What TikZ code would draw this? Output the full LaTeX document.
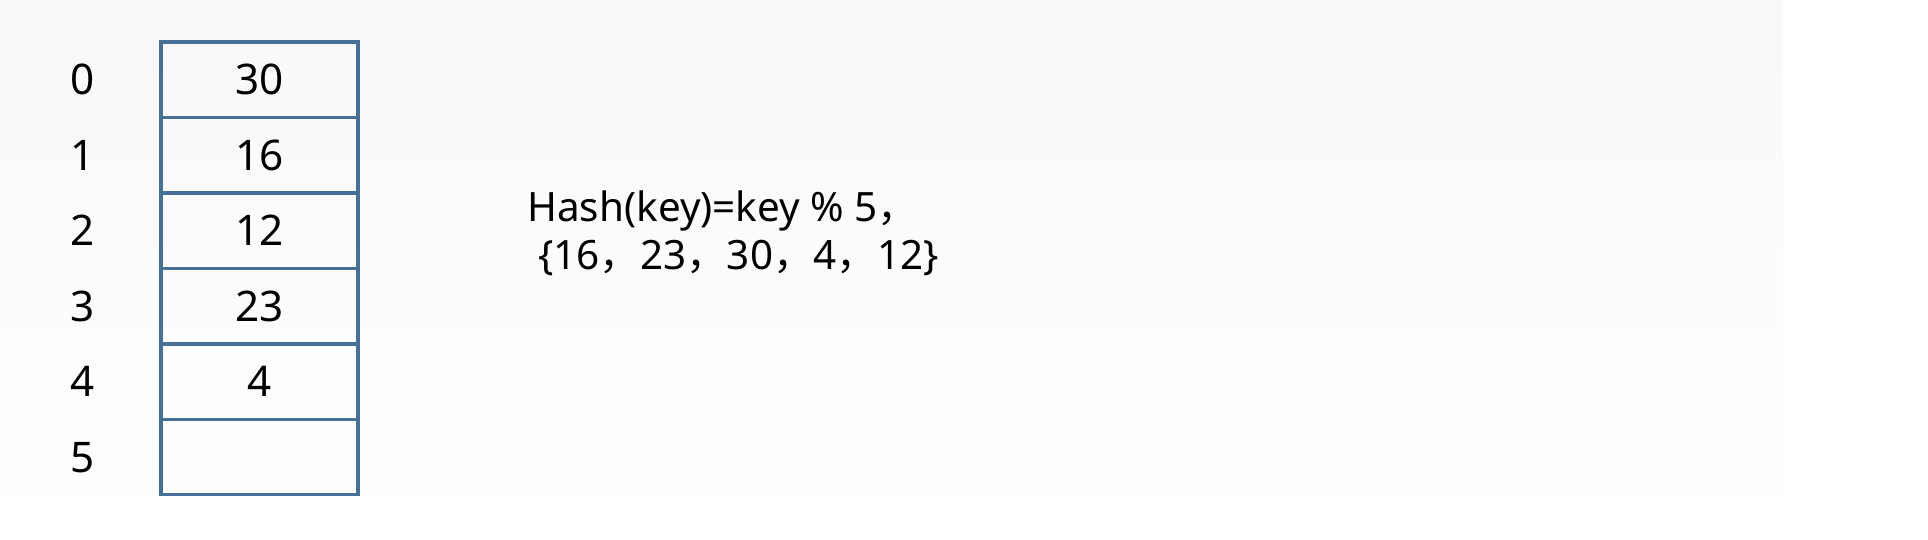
\documentclass[tikz,border=0pt]{standalone}
\usepackage{fontspec}
\setmainfont{Noto Sans}
\newfontfamily\cjk{Noto Sans CJK SC}
\usetikzlibrary{positioning}

\definecolor{slotblue}{RGB}{70,112,152}

\tikzset{
  slot/.style={draw=slotblue, line width=1.8pt, minimum width=3.94cm, minimum height=1.51cm,
    outer sep=0pt, inner sep=0pt, font=\fontsize{24}{28}\selectfont},
  idx/.style={font=\fontsize{24}{28}\selectfont},
  formula/.style={font=\fontsize{23}{27}\selectfont, inner sep=0pt}
}

\begin{document}
\begin{tikzpicture}[x=0.02cm, y=-0.02cm]
    \useasboundingbox (0,0) rectangle (1928,540);
    % faint backdrop
    \shade[top color=black!2.5, bottom color=white, draw=none] (0,0) rectangle (1783,540);

    % hash table slots
    \node[slot, anchor=north west] (cell0) at (161,42) {30};
    \node[slot, below=0pt of cell0] (cell1) {\raisebox{-6pt}{16}};
    \node[slot, below=0pt of cell1] (cell2) {12};
    \node[slot, below=0pt of cell2] (cell3) {23};
    \node[slot, below=0pt of cell3] (cell4) {4};
    \node[slot, below=0pt of cell4] (cell5) {};

    % slot indices
    \foreach \i in {0,...,5}
        \node[idx] (idx\i) at (83,0 |- cell\i.center) {\i};

    % hash function and keys
    \node[formula, anchor=base west] (hashfn) at (527,222) {Hash(key)=key \% 5{\cjk ，}};
    \node[formula, anchor=base west] (keyset) at (538,270)
        {\{16{\cjk ，}23{\cjk ，}30{\cjk ，}4{\cjk ，}12\}};
\end{tikzpicture}
\end{document}
